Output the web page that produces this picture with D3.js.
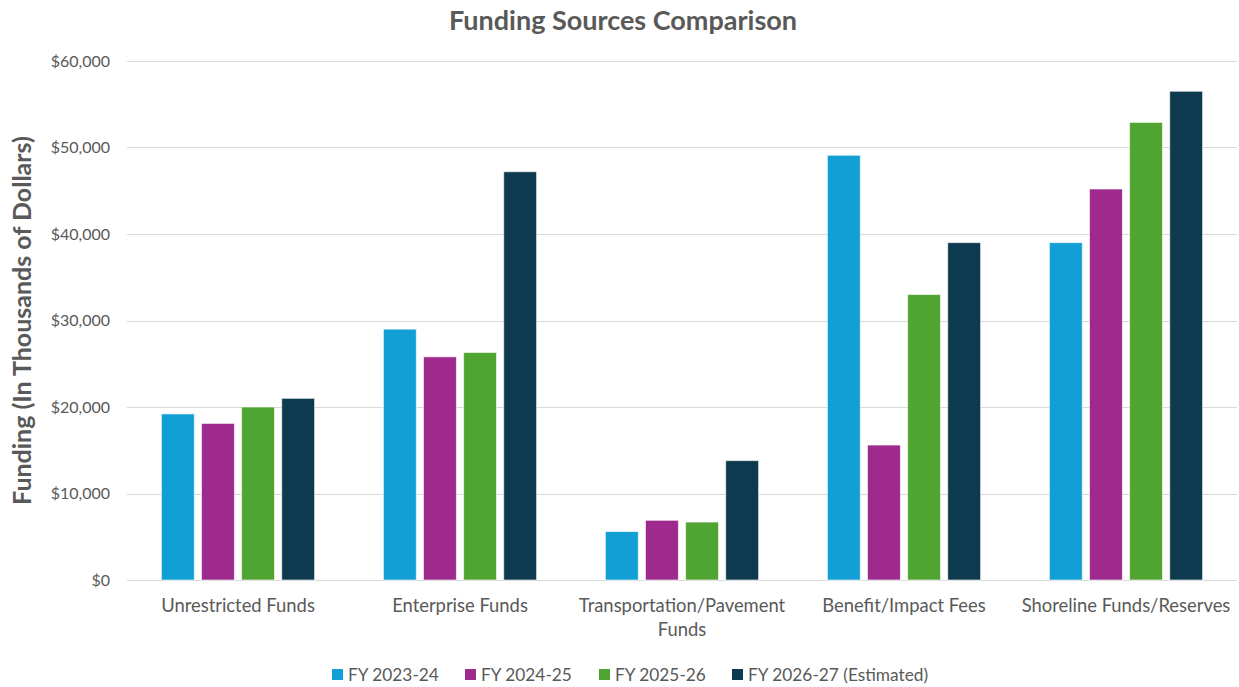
<!DOCTYPE html>
<html>
<head>
<meta charset="UTF-8">
<title>Funding Sources Comparison</title>
<style>
  body { margin: 0; background: #fff; }
  text { font-family: Lato, "Open Sans", sans-serif; }
</style>
</head>
<body>
<div id="chart"></div>
<script src="https://d3js.org/d3.v7.min.js"></script>
<script>
// data (thousands of dollars)
var categories = ["Unrestricted Funds", "Enterprise Funds", "Transportation/Pavement Funds", "Benefit/Impact Fees", "Shoreline Funds/Reserves"];
var seriesNames = ["FY 2023-24", "FY 2024-25", "FY 2025-26", "FY 2026-27 (Estimated)"];
var fy2324 = [19200, 29000, 5600, 49100, 39000];
var fy2425 = [18100, 25800, 6900, 15600, 45200];
var fy2526 = [20000, 26300, 6700, 33000, 52900];
var fy2627 = [21000, 47200, 13800, 39000, 56500];
var yTicks = [0, 10000, 20000, 30000, 40000, 50000, 60000];

var seriesValues = [fy2324, fy2425, fy2526, fy2627];
var colors = ["#119fd6", "#9e2a8e", "#50a532", "#0e3a4f"];

var width = 1239, height = 687;
var margin = { top: 61, right: 2, bottom: 107, left: 127 };

var svg = d3.select("#chart").append("svg")
  .attr("width", width)
  .attr("height", height);

var x0 = d3.scaleBand()
  .domain(categories)
  .range([margin.left, width - margin.right])
  .paddingInner(0.31)
  .paddingOuter(0.155);

var x1 = d3.scaleBand()
  .domain(seriesNames)
  .range([0, x0.bandwidth()])
  .paddingInner(0.18);

var y = d3.scaleLinear()
  .domain([0, 60000])
  .range([height - margin.bottom, margin.top]);

// gridlines
svg.append("g")
  .selectAll("line")
  .data(yTicks)
  .join("line")
  .attr("x1", margin.left)
  .attr("x2", width - margin.right)
  .attr("y1", function(d) { return Math.round(y(d)) + 0.5; })
  .attr("y2", function(d) { return Math.round(y(d)) + 0.5; })
  .attr("stroke", "#d9d9d9")
  .attr("stroke-width", 1);

// y axis labels
var yAxis = d3.axisLeft(y)
  .tickValues(yTicks)
  .tickSize(0)
  .tickPadding(17)
  .tickFormat(function(d) { return "$" + d3.format(",")(d); });

var gy = svg.append("g")
  .attr("transform", "translate(" + margin.left + ",0)")
  .call(yAxis);
gy.select(".domain").remove();
gy.selectAll("text")
  .attr("font-size", "16px")
  .attr("fill", "#595959");

// bars
var rows = [];
categories.forEach(function(c, i) {
  seriesNames.forEach(function(s, j) {
    rows.push({ cat: c, series: s, value: seriesValues[j][i], color: colors[j] });
  });
});

svg.append("g")
  .selectAll("rect")
  .data(rows)
  .join("rect")
  .attr("x", function(d) { return x0(d.cat) + x1(d.series); })
  .attr("y", function(d) { return y(d.value); })
  .attr("width", x1.bandwidth())
  .attr("height", function(d) { return y(0) - y(d.value); })
  .attr("fill", function(d) { return d.color; })
  .attr("stroke", "rgba(255,255,255,0.6)")
  .attr("stroke-width", 1);

// x axis labels
var xAxis = d3.axisBottom(x0).tickSize(0).tickPadding(19);
var gx = svg.append("g")
  .attr("transform", "translate(0," + y(0) + ")")
  .call(xAxis);
gx.select(".domain").remove();
gx.selectAll("text")
  .attr("font-size", "18.4px")
  .attr("fill", "#595959")
  .each(function(d) {
    if (d === "Transportation/Pavement Funds") {
      var t = d3.select(this);
      t.text(null);
      t.append("tspan").attr("x", 0).attr("dy", "0.71em").text("Transportation/Pavement");
      t.append("tspan").attr("x", 0).attr("dy", "1.3em").text("Funds");
      t.attr("dy", null);
    }
  });

// title
svg.append("text")
  .attr("x", 623)
  .attr("y", 30)
  .attr("text-anchor", "middle")
  .attr("font-size", "27px")
  .attr("font-weight", "bold")
  .attr("fill", "#595959")
  .text("Funding Sources Comparison");

// y axis title
svg.append("text")
  .attr("transform", "translate(31," + ((margin.top + height - margin.bottom) / 2) + ") rotate(-90)")
  .attr("text-anchor", "middle")
  .attr("font-size", "25px")
  .attr("font-weight", "bold")
  .attr("fill", "#595959")
  .text("Funding (In Thousands of Dollars)");

// legend
var legendX = [332, 465, 599, 732];
var legend = svg.append("g")
  .selectAll("g")
  .data(seriesNames)
  .join("g")
  .attr("transform", function(d, i) { return "translate(" + legendX[i] + ",675)"; });

legend.append("rect")
  .attr("x", 0)
  .attr("y", -6)
  .attr("width", 11)
  .attr("height", 11)
  .attr("fill", function(d, i) { return colors[i]; });

legend.append("text")
  .attr("x", 16)
  .attr("y", 0)
  .attr("dy", "0.35em")
  .attr("font-size", "17.3px")
  .attr("fill", "#595959")
  .text(function(d) { return d; });
</script>
</body>
</html>
